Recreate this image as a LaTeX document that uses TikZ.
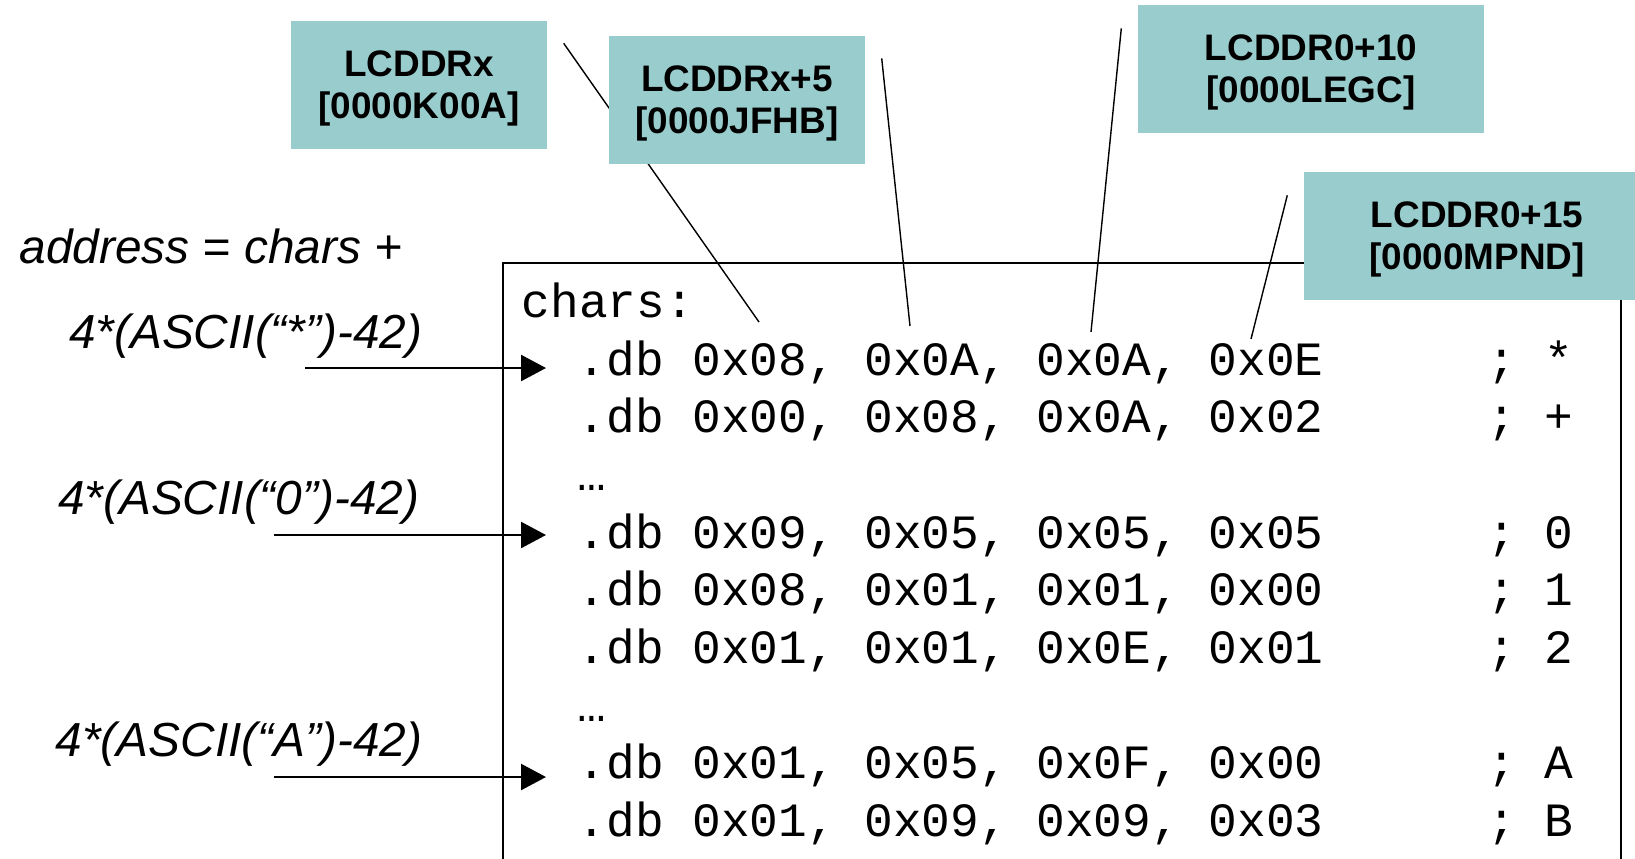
\documentclass[tikz,border=0pt]{standalone}
\usepackage{fontspec}
\setmainfont{Liberation Sans}
\newfontfamily\codefont{Liberation Mono}
\usetikzlibrary{arrows.meta,positioning,calc}
\definecolor{regteal}{HTML}{99CCCC}
\tikzset{
  regbox/.style={rectangle,fill=regteal,inner sep=0pt,align=center,text depth=0pt,minimum width=25.6mm,minimum height=12.8mm,font=\fontsize{10.5}{11.9}\selectfont\bfseries},
  regwide/.style={regbox,minimum width=34.6mm},
  formula/.style={inner sep=0pt,font=\fontsize{13.6}{16}\selectfont\itshape},
  codeline/.style={inner sep=0pt,anchor=base west,font=\codefont\fontsize{13.6}{16}\selectfont},
  codeframe/.style={draw,line width=0.6pt},
  leader/.style={line width=0.4pt},
  pointer/.style={-{Triangle[length=2.5mm,width=2.6mm]},line width=0.7pt,shorten >=3.1mm}
}

\begin{document}
\begin{tikzpicture}[x=0.1mm,y=-0.1mm]
    \useasboundingbox (0,0) rectangle (1635,858);
    \clip (0,0) rectangle (1635,858);
    \draw[codeframe] (503,263) rectangle (1621,900);

    \node[formula,anchor=base west] (adr) at (19,263) {address = chars +};
    \node[formula,anchor=base east] (fst) at (423,348) {4*(ASCII(“*”)-42)};
    \node[formula,anchor=base east] (fzero) at (420,514) {4*(ASCII(“0”)-42)};
    \node[formula,anchor=base east] (fa) at (423,756) {4*(ASCII(“A”)-42)};

    \node[codeline] (lab) at (521,317) {chars:};
    \node[codeline] (r1) at (577,375) {.db 0x08, 0x0A, 0x0A, 0x0E\hspace{3.43em}; *};
    \node[codeline] (r2) at (577,432.7) {.db 0x00, 0x08, 0x0A, 0x02\hspace{3.43em}; +};
    \node[codeline] (d1) at (577,490.4) {…};
    \node[codeline] (r3) at (577,548.1) {.db 0x09, 0x05, 0x05, 0x05\hspace{3.43em}; 0};
    \node[codeline] (r4) at (577,605.8) {.db 0x08, 0x01, 0x01, 0x00\hspace{3.43em}; 1};
    \node[codeline] (r5) at (577,663.5) {.db 0x01, 0x01, 0x0E, 0x01\hspace{3.43em}; 2};
    \node[codeline] (d2) at (577,721.2) {…};
    \node[codeline] (r6) at (577,778.9) {.db 0x01, 0x05, 0x0F, 0x00\hspace{3.43em}; A};
    \node[codeline] (r7) at (577,836.6) {.db 0x01, 0x09, 0x09, 0x03\hspace{3.43em}; B};

    \coordinate (s1) at (305,368);
    \coordinate (s2) at (274,535);
    \coordinate (s3) at (274,777);
    \draw[pointer] (s1) -- (s1 -| r1.west);
    \draw[pointer] (s2) -- (s2 -| r3.west);
    \draw[pointer] (s3) -- (s3 -| r6.west);

    \coordinate (e1) at (759,322);
    \coordinate (e2) at (910,326);
    \coordinate (e3) at (1091,332);
    \coordinate (e4) at (1251,339);

    \node[regbox] (lx) at (419,85) {LCDDRx\\{}[0000K00A]};
    \draw[leader] ($(lx.north east)+(16,23)$) -- (e1);
    \node[regbox] (lx5) at (737,100) {LCDDRx+5\\{}[0000JFHB]};
    \draw[leader] ($(lx5.north east)+(16,23)$) -- (e2);
    \node[regwide] (l10) at (1311,69) {LCDDR0+10\\{}[0000LEGC]};
    \draw[leader] ($(l10.north west)+(-16,24)$) -- (e3);
    \node[regwide] (l15) at (1477,236) {LCDDR0+15\\{}[0000MPND]};
    \draw[leader] ($(l15.north west)+(-16,24)$) -- (e4);
  \end{tikzpicture}
\end{document}
